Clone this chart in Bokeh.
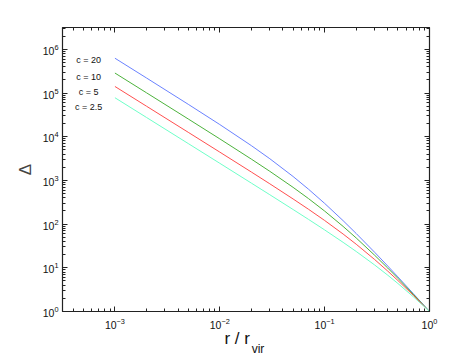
from bokeh.plotting import figure
from bokeh.models import (LogAxis, FixedTicker, LogTickFormatter, CustomJSTickFormatter,
                          Range1d, ColumnDataSource)
from bokeh.core.properties import value
from bokeh.embed import file_html
from bokeh.resources import INLINE

# ---- data ----
r_over_rvir = [0.001, 0.002, 0.005, 0.01, 0.02, 0.03, 0.05, 0.07, 0.1, 0.15, 0.2, 0.3, 0.4, 0.5, 0.7, 1.0]
delta_c20 = [6.270e5, 2.211e5, 5.529e4, 1.902e4, 6258, 3138, 1231, 632.3, 298.0, 120.0, 60.97, 22.64, 10.97, 6.189, 2.574, 1.0]
delta_c10 = [2.868e5, 1.013e5, 2.552e4, 8933, 3073, 1617, 694.9, 385.6, 198.9, 88.66, 48.15, 19.38, 9.851, 5.738, 2.486, 1.0]
delta_c5 = [1.414e5, 4.998e4, 1.263e4, 4448, 1557, 836.7, 376.9, 219.5, 121.1, 59.32, 34.66, 15.45, 8.391, 5.120, 2.357, 1.0]
delta_c2_5 = [7.812e4, 2.762e4, 6983, 2466, 868.6, 470.6, 216.2, 128.7, 73.61, 38.28, 23.65, 11.59, 6.769, 4.372, 2.184, 1.0]

series = [delta_c20, delta_c10, delta_c5, delta_c2_5]
series_labels = ["c = 20", "c = 10", "c = 5", "c = 2.5"]
line_colors = ["#6a82ff", "#4cb23c", "#ff4f4f", "#6effc8"]
label_x = [5.6e-4, 5.6e-4, 5.6e-4, 5.6e-4]
label_y = [5.66e5, 2.39e5, 1.08e5, 4.91e4]

x_major = [1e-3, 1e-2, 1e-1, 1e0]
y_major = [1e0, 1e1, 1e2, 1e3, 1e4, 1e5, 1e6]
x_limits = [10 ** -3.5, 1.0]
y_limits = [1.0, 10 ** 6.5]

x_title_main = "r / r"
x_title_sub = "vir"
x_title_main_at = 0.01464   # centre of "r / r" along the x axis
x_title_sub_at = 0.02316    # centre of the subscript "vir"

x_minor = [k * 10.0 ** d for d in range(-4, 0) for k in range(2, 10)
           if x_limits[0] <= k * 10.0 ** d <= x_limits[1]]
y_minor = [k * 10.0 ** d for d in range(0, 7) for k in range(2, 10)
           if y_limits[0] <= k * 10.0 ** d <= y_limits[1]]

FONT = "Liberation Sans"
AX = "#222222"

p = figure(frame_width=367, frame_height=284,
           x_axis_type="log", y_axis_type="log",
           x_range=Range1d(*x_limits), y_range=Range1d(*y_limits),
           output_backend="svg", toolbar_location=None,
           min_border_left=62, min_border_right=44,
           min_border_top=27, min_border_bottom=40)
p.grid.visible = False
p.outline_line_color = AX
p.background_fill_color = "white"
p.border_fill_color = "white"

xt = FixedTicker(ticks=x_major, minor_ticks=x_minor)
yt = FixedTicker(ticks=y_major, minor_ticks=y_minor)

def style(ax):
    ax.axis_line_color = AX
    ax.axis_line_width = 1.2
    ax.major_tick_line_color = AX
    ax.minor_tick_line_color = AX
    ax.major_tick_in = 5
    ax.major_tick_out = 0
    ax.minor_tick_in = 3
    ax.minor_tick_out = 0
    ax.major_label_text_font = FONT
    ax.major_label_text_font_size = "10.5px"
    ax.major_label_text_color = "#111111"

main_x = p.xaxis[0]
main_y = p.yaxis[0]
main_x.ticker = xt
main_y.ticker = yt
main_x.formatter = LogTickFormatter()
main_y.formatter = LogTickFormatter()
style(main_x)
style(main_y)
main_x.major_label_standoff = 6
main_y.major_label_standoff = 4

main_y.axis_label = "Δ"
main_y.axis_label_text_font = FONT
main_y.axis_label_text_font_style = "normal"
main_y.axis_label_text_font_size = "17px"
main_y.axis_label_standoff = 5

blank = CustomJSTickFormatter(code="return ''")
top = LogAxis(ticker=xt, formatter=blank)
right = LogAxis(ticker=yt, formatter=blank)
style(top)
style(right)
p.add_layout(top, "above")
p.add_layout(right, "right")

# x-axis title "r / r_vir": two label-only axes stacked under the main x axis
def title_axis(at, text, size, standoff):
    ax = LogAxis(ticker=FixedTicker(ticks=[at]),
                 formatter=CustomJSTickFormatter(code="return %r" % text))
    ax.axis_line_color = None
    ax.major_tick_line_color = None
    ax.minor_tick_line_color = None
    ax.major_tick_in = 0
    ax.major_tick_out = 0
    ax.major_label_text_font = FONT
    ax.major_label_text_font_size = size
    ax.major_label_text_color = "#111111"
    ax.major_label_standoff = standoff
    return ax

p.add_layout(title_axis(x_title_main_at, x_title_main, "17px", -3), "below")
p.add_layout(title_axis(x_title_sub_at, x_title_sub, "12px", -9), "below")

for ys, col in zip(series, line_colors):
    p.line(r_over_rvir, ys, line_color=col, line_width=1)

src = ColumnDataSource(dict(x=label_x, y=label_y, t=series_labels))
p.text(x="x", y="y", text="t", source=src, text_font=value(FONT),
       text_font_size="9px", text_align="center", text_baseline="middle",
       text_color="#111111")

open("out.html", "w").write(file_html(p, INLINE))
